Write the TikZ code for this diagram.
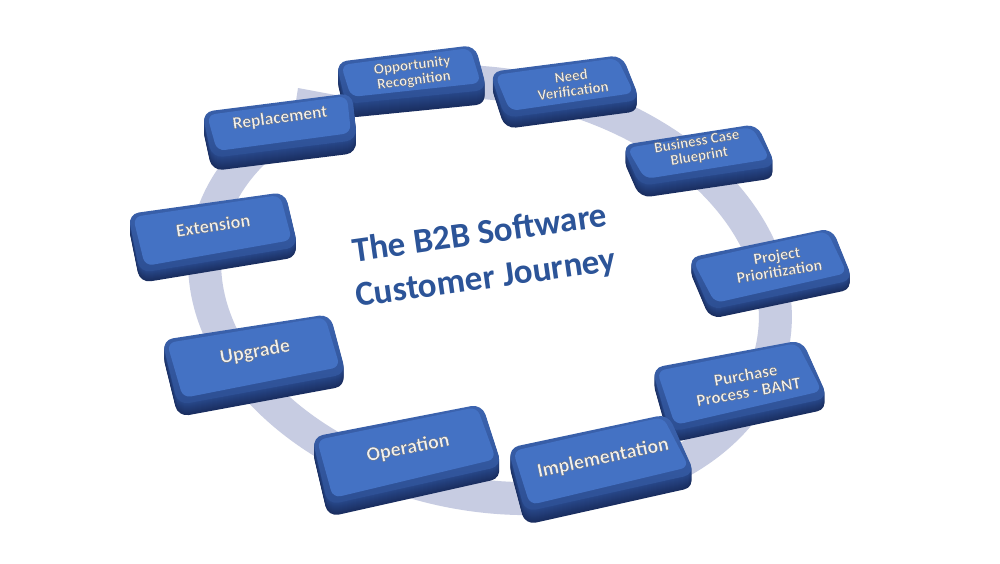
\documentclass[tikz,border=0pt]{standalone}
\usepackage{fontspec}
\setmainfont{Carlito}
\usetikzlibrary{calc}
\definecolor{ringcol}{RGB}{199,204,226}
\definecolor{facecol}{RGB}{68,114,196}
\definecolor{beveltop}{RGB}{60,100,176}
\definecolor{bevelbot}{RGB}{44,78,146}
\definecolor{sidelight}{RGB}{40,72,138}
\definecolor{sidedark}{RGB}{26,46,96}
\definecolor{titleblue}{RGB}{44,84,152}
\definecolor{lbltext}{RGB}{240,240,240}
\tikzset{
  lbl/.style={text=lbltext, align=center, inner sep=0pt},
  titletext/.style={text=titleblue, align=center, inner sep=0pt,
    font=\fontsize{35}{45}\selectfont\bfseries},
  ringline/.style={draw=ringcol, line width=33pt},
}
% light letters with a thin dark grey edge (fill + stroke text mode)
\newcommand\shtext[1]{\special{pdf:literal direct 2 Tr 0.3 w 0.4 0.4 0.4 RG}#1}
% #1 TL, #2 TR, #3 BR, #4 BL, #5 depth
\newcommand\keybox[5]{%
  \foreach \k in {#5,...,1}{%
    \pgfmathtruncatemacro\pct{100*\k/#5}%
    \fill[sidedark!\pct!sidelight, rounded corners=11pt, shift={(0,\k)}]
      (#1) -- (#2) -- (#3) -- (#4) -- cycle;
  }
  \shade[rounded corners=11pt, top color=beveltop, bottom color=bevelbot]
    (#1) -- (#2) -- (#3) -- (#4) -- cycle;
  \fill[facecol, rounded corners=8pt]
    ($(#1)+(5,3)$) -- ($(#2)+(-5,3)$) -- ($(#3)+(-6,-7)$) -- ($(#4)+(5,-7)$) -- cycle;
}
% #1 name, #2 position, #3 angle, #4 size, #5 leading, #6 text
\newcommand\keylabel[6]{%
  \node[lbl, rotate=#3, font=\fontsize{#4}{#5}\selectfont\bfseries]
    (#1) at (#2) {\shtext{#6}};
}
\begin{document}
\begin{tikzpicture}[x=1pt,y=-1pt]
\useasboundingbox (0,0) rectangle (1000,563);
\fill[white] (0,0) rectangle (1000,563);

% ring
\draw[ringline] plot[domain=255:582, samples=160, smooth]
  ({490+288*cos(\x)*cos(11)-205*sin(\x)*sin(11)},
   {290+288*cos(\x)*sin(11)+205*sin(\x)*cos(11)});
\coordinate (out222) at (296,101);
\coordinate (barb) at (298,88);
\coordinate (tip) at (405,108);
\coordinate (in235) at (367,109);
\coordinate (in228) at (338,118);
\fill[ringcol] (out222) -- (barb) -- (tip) -- (in235) -- (in228) -- cycle;

% title
\node[titletext, rotate=8] (title) at (483,257) {The B2B Software\\Customer Journey};

% boxes (back to front)
\keybox{336,62}{475,45}{487,90}{346,104}{14}
\keylabel{opp}{413,73}{7}{15}{15}{Opportunity\\Recognition}

\keybox{490,72}{622,55}{640,100}{505,118}{11}
\keylabel{need}{572,83}{7.5}{15}{15}{Need\\Verification}

\keybox{202,112}{352,93}{357,140}{212,158}{13}
\keylabel{repl}{280,118}{7.5}{17.5}{17}{Replacement}

\keybox{622,145}{757,124}{776,166}{640,186}{12}
\keylabel{biz}{698,149}{9.5}{15}{15}{Business Case\\Blueprint}

\keybox{128,214}{285,192}{298,247}{140,273}{10}
\keylabel{ext}{213,225}{8.5}{18.5}{18}{Extension}

\keybox{688,258}{832,228}{853,280}{710,310}{9}
\keylabel{proj}{778,263}{9}{16}{16}{Project\\Prioritization}

\keybox{162,340}{330,314}{346,374}{178,405}{12}
\keylabel{upg}{255,352}{10}{20}{20}{Upgrade}

\keybox{652,368}{802,340}{828,398}{670,432}{11}
\keylabel{purch}{747,383}{10}{17}{17}{Purchase\\Process - BANT}

\keybox{312,437}{482,404}{502,466}{328,505}{12}
\keylabel{oper}{408,448}{11}{20}{20}{Operation}

\keybox{508,448}{668,414}{695,474}{525,512}{13}
\keylabel{impl}{603,458}{12}{20}{20}{Implementation}
\end{tikzpicture}
\end{document}
